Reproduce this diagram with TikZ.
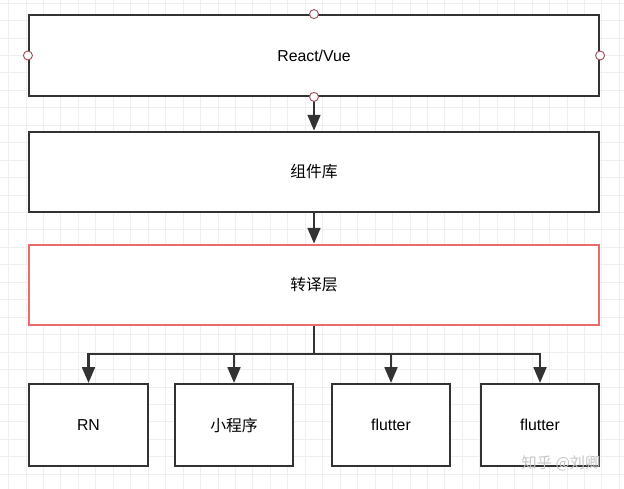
\documentclass[tikz,border=0pt]{standalone}
\usepackage{fontspec}
\setmainfont{Liberation Sans}
\newfontfamily\cjk{Noto Sans CJK SC}
\usetikzlibrary{arrows.meta}
\definecolor{gridgray}{HTML}{EFEFEF}
\definecolor{boxline}{HTML}{333333}
\definecolor{redline}{HTML}{EA6B6B}
\definecolor{pinline}{HTML}{A0505A}

\begin{document}
\begin{tikzpicture}[x=0.03cm, y=-0.03cm,
boxnode/.style={rectangle, draw=boxline, fill=white, line width=1.8pt, font=\fontsize{13.5}{16}\selectfont},
widebox/.style={boxnode, minimum width=17.1cm, minimum height=2.42cm},
smallbox/.style={boxnode, minimum width=3.55cm, minimum height=2.46cm},
pin/.style={circle, draw=pinline, fill=white, line width=0.8pt, minimum size=0.27cm, inner sep=0pt},
arrow/.style={draw=boxline, line width=1.8pt, -{Triangle[length=13.5pt, width=11pt]}}
]
    \useasboundingbox (0,0) rectangle (624,489);
    \fill[white] (0,0) rectangle (624,489);
    % grid
    \foreach \i in {0,...,35} \draw[gridgray, line width=0.6pt] (8.5+17.45*\i,0) -- (8.5+17.45*\i,489);
    \foreach \i in {0,...,28} \draw[gridgray, line width=0.6pt] (0,3+17.45*\i) -- (624,3+17.45*\i);

    \node[widebox] (top) at (314,55.5){React/Vue};
    \node[widebox] (lib) at (314,172){\cjk 组件库};
    \node[widebox, draw=redline] (trans) at (314,285){\cjk 转译层};

    \node[smallbox] (rn) at (88.5,425){RN};
    \node[smallbox] (mini) at (234,425){\cjk 小程序};
    \node[smallbox] (fl1) at (391,425){flutter};
    \node[smallbox] (fl2) at (540,425){flutter};

    \draw[arrow] (top.south) -- (lib.north);
    \draw[arrow] (lib.south) -- (trans.north);

    \coordinate (bus) at (314,354);
    \draw[boxline, line width=1.8pt] (trans.south) -- (bus);
    \foreach \n in {rn,mini,fl1,fl2}
        \draw[arrow] (bus) -| (\n.north);

    \foreach \a in {north,south,west,east}
        \node[pin] at (top.\a){};

    \node[text=gray!45, font=\fontsize{13}{15}\selectfont] (mark) at (561,463){\cjk 知乎 @刘卿};
\end{tikzpicture}
\end{document}
